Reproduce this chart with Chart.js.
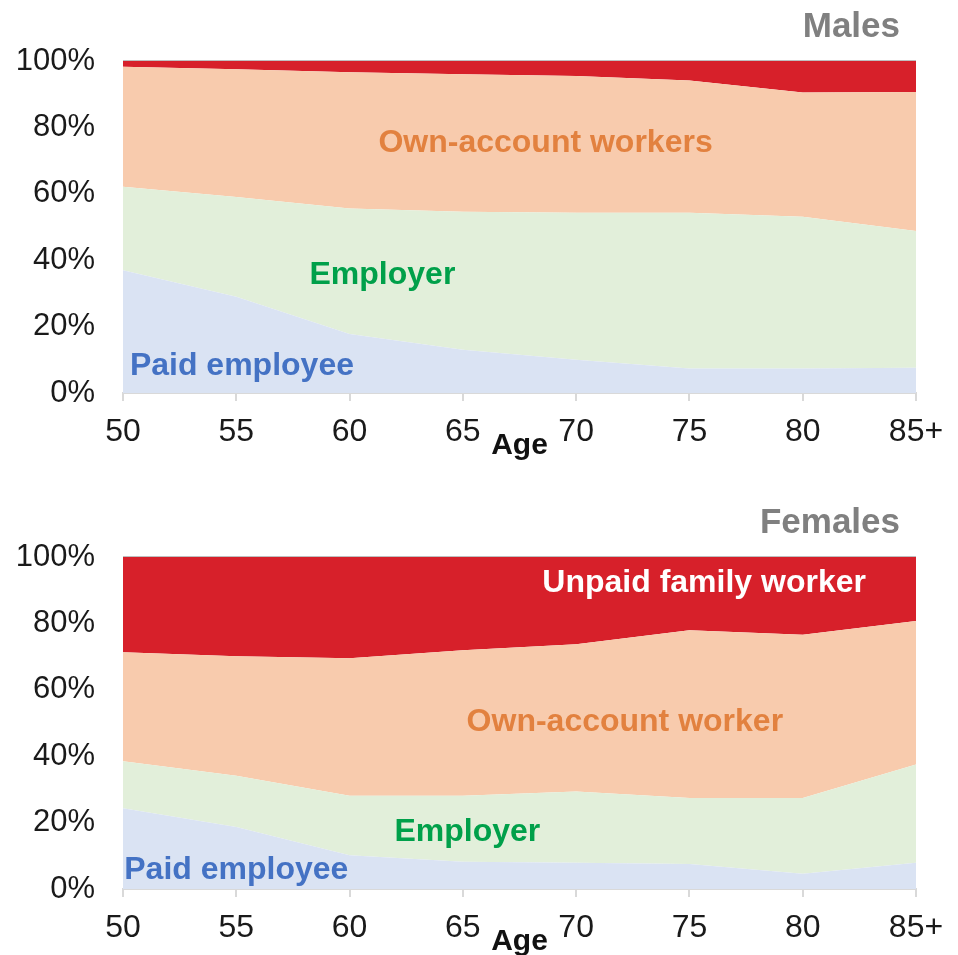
<!DOCTYPE html>
<html>
<head>
<meta charset="utf-8">
<script src="https://cdn.jsdelivr.net/npm/chart.js@4/dist/chart.umd.min.js"></script>
<style>
  html, body { margin: 0; padding: 0; background: #fff; overflow: hidden; }
  canvas { display: block; }
</style>
</head>
<body>
<canvas id="malesChart" width="958" height="496"></canvas>
<canvas id="femalesChart" width="958" height="496"></canvas>
<script>
// === DATOS ===
const ageLabels = ['50', '55', '60', '65', '70', '75', '80', '85+'];
const yTicks = [0, 20, 40, 60, 80, 100];

// Hombres (% del total)
const malePaid     = [37.0, 29.0, 17.8, 13.0, 10.0, 7.4, 7.4, 7.6];
const maleEmployer = [25.1, 30.0, 37.8, 41.6, 44.3, 46.9, 45.7, 41.2];
const maleOwn      = [36.2, 38.5, 41.0, 41.4, 41.2, 39.8, 37.4, 41.9];
const maleUnpaid   = [1.7, 2.5, 3.4, 4.0, 4.5, 5.9, 9.5, 9.3];

// Mujeres (% del total)
const femalePaid     = [24.3, 18.7, 10.2, 8.2, 7.9, 7.5, 4.6, 7.9];
const femaleEmployer = [14.2, 15.4, 17.9, 19.9, 21.5, 19.9, 22.8, 29.6];
const femaleOwn      = [32.8, 36.0, 41.4, 43.8, 44.3, 50.5, 49.2, 43.2];
const femaleUnpaid   = [28.7, 29.9, 30.5, 28.1, 26.3, 22.1, 23.4, 19.3];

// === ESTILOS ===
const FONT = 'Liberation Sans, Arial, sans-serif';
const colores = {
    paid: '#DAE3F3',
    employer: '#E2EFDA',
    own: '#F8CBAD',
    unpaid: '#D7202A'
};

// Etiquetas dentro del gráfico (x en índice de categoría, y en %)
const etiquetasMales = [
    { text: 'Own-account workers', x: 3.73, y: 75.3, color: '#E2813F' },
    { text: 'Employer', x: 2.29, y: 35.5, color: '#00A04A' },
    { text: 'Paid employee', x: 1.05, y: 8.1, color: '#4472C4' }
];
const etiquetasFemales = [
    { text: 'Unpaid family worker', x: 5.13, y: 92.1, color: '#FFFFFF' },
    { text: 'Own-account worker', x: 4.43, y: 50.2, color: '#E2813F' },
    { text: 'Employer', x: 3.04, y: 17.2, color: '#00A04A' },
    { text: 'Paid employee', x: 1.0, y: 5.7, color: '#4472C4' }
];

// Plugin para títulos y etiquetas de texto
const textoPlugin = {
    id: 'textos',
    afterDraw(chart, args, opts) {
        const ctx = chart.ctx;
        const xs = chart.scales.x, ys = chart.scales.y;
        const area = chart.chartArea;
        ctx.save();
        ctx.textBaseline = 'middle';

        // etiquetas de las áreas
        ctx.textAlign = 'center';
        ctx.font = 'bold 32px ' + FONT;
        opts.labels.forEach(l => {
            ctx.fillStyle = l.color;
            ctx.fillText(l.text, xs.getPixelForValue(l.x), ys.getPixelForValue(l.y));
        });

        // título (Males / Females)
        ctx.textAlign = 'right';
        ctx.font = 'bold 35px ' + FONT;
        ctx.fillStyle = '#808080';
        ctx.fillText(opts.title, area.right - 16, area.top - 34);

        // título del eje x
        ctx.textAlign = 'center';
        ctx.font = 'bold 30px ' + FONT;
        ctx.fillStyle = '#111';
        ctx.fillText('Age', (area.left + area.right) / 2, area.bottom + 53);
        ctx.restore();
    }
};

function crearSerie(label, data, color, fill) {
    return {
        label: label,
        data: data,
        backgroundColor: color,
        borderWidth: 0,
        pointRadius: 0,
        pointHoverRadius: 0,
        tension: 0,
        fill: fill
    };
}

function crearGrafico(id, titulo, paid, employer, own, unpaid, etiquetas) {
    const ctx = document.getElementById(id).getContext('2d');
    return new Chart(ctx, {
        type: 'line',
        data: {
            labels: ageLabels,
            datasets: [
                crearSerie('Paid employee', paid, colores.paid, 'origin'),
                crearSerie('Employer', employer, colores.employer, '-1'),
                crearSerie('Own-account worker', own, colores.own, '-1'),
                crearSerie('Unpaid family worker', unpaid, colores.unpaid, '-1')
            ]
        },
        options: {
            responsive: false,
            animation: false,
            layout: { padding: { top: 61, right: 42, left: 0, bottom: 0 } },
            plugins: {
                legend: { display: false },
                tooltip: { enabled: false },
                textos: { title: titulo, labels: etiquetas }
            },
            scales: {
                x: {
                    offset: false,
                    grid: { drawOnChartArea: false, color: '#D9D9D9', tickLength: 8, lineWidth: 2 },
                    border: { color: '#D9D9D9', width: 2 },
                    ticks: { color: '#1a1a1a', font: { family: FONT, size: 32 }, padding: 12, maxRotation: 0 },
                    afterFit(scale) { scale.height = 103; }
                },
                y: {
                    stacked: true,
                    min: 0,
                    max: 100,
                    afterBuildTicks(scale) { scale.ticks = yTicks.map(v => ({ value: v })); },
                    grid: {
                        drawTicks: false,
                        color: c => c.tick.value === 100 ? '#BFBFBF' : 'transparent',
                        lineWidth: 2
                    },
                    border: { display: false },
                    ticks: {
                        color: '#1a1a1a',
                        font: { family: FONT, size: 31 },
                        padding: 28,
                        callback: v => v + '%'
                    },
                    afterFit(scale) { scale.width = 123; }
                }
            }
        },
        plugins: [textoPlugin]
    });
}

document.addEventListener('DOMContentLoaded', function() {
    crearGrafico('malesChart', 'Males', malePaid, maleEmployer, maleOwn, maleUnpaid, etiquetasMales);
    crearGrafico('femalesChart', 'Females', femalePaid, femaleEmployer, femaleOwn, femaleUnpaid, etiquetasFemales);
});
</script>
</body>
</html>
